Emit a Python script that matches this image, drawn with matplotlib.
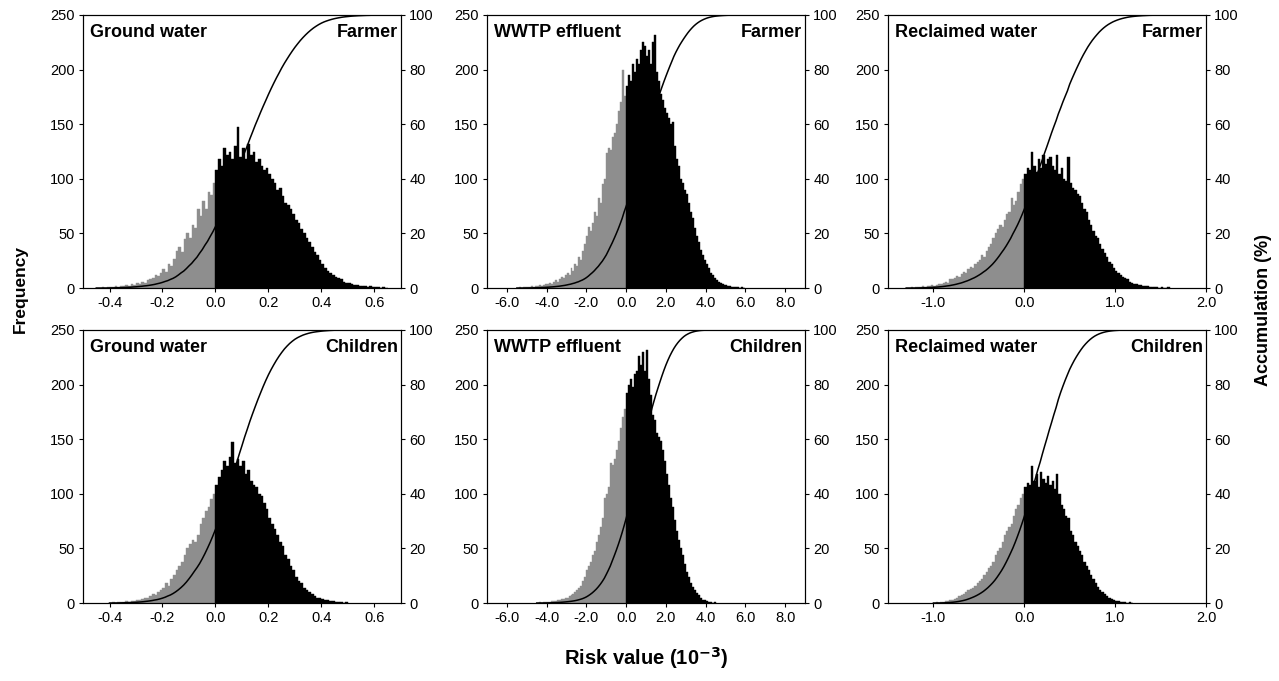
import numpy as np
import matplotlib
matplotlib.use('Agg')
import matplotlib.pyplot as plt

plt.rcParams['font.family'] = ['Liberation Sans', 'DejaVu Sans']

# histogram counts (bin left edge = start + i * width)
gw_farmer_start, gw_farmer_width = -0.45, 0.01
gw_farmer = [0, 0, 1, 0, 1, 1, 1, 2, 1, 2,
             2, 3, 2, 4, 3, 5, 4, 6, 5, 7,
             8, 9, 12, 11, 14, 17, 15, 22, 20, 27,
             34, 38, 33, 45, 50, 46, 58, 55, 72, 66,
             80, 72, 88, 85, 96,
             108, 118, 112, 128, 122, 125, 118, 130, 147, 120,
             128, 118, 132, 122, 125, 115, 118, 112, 108, 110,
             104, 100, 96, 90, 92, 84, 78, 76, 72, 68,
             62, 60, 54, 50, 46, 42, 38, 33, 30, 26,
             22, 18, 16, 14, 12, 10, 9, 8, 6, 5,
             5, 4, 3, 3, 2, 2, 2, 1, 2, 1,
             1, 1, 0, 1, 0]

ww_farmer_start, ww_farmer_width = -5.5, 0.1
ww_farmer = [0, 1, 0, 1, 1,
             1, 1, 2, 1, 2, 2, 3, 2, 3, 4,
             4, 5, 4, 6, 7, 6, 8, 10, 9, 12,
             14, 12, 18, 16, 22, 20, 28, 26, 34, 40,
             48, 56, 52, 60, 70, 66, 82, 78, 95, 100,
             124, 128, 126, 138, 142, 150, 162, 170, 200, 176,
             185, 195, 190, 205, 198, 210, 205, 218, 225, 222,
             212, 218, 205, 225, 232, 198, 190, 178, 172, 165,
             160, 156, 150, 152, 130, 118, 112, 100, 96, 90,
             86, 78, 70, 64, 55, 48, 42, 35, 30, 26,
             22, 18, 14, 12, 9, 7, 6, 5, 4, 3,
             3, 2, 2, 1, 1, 1, 1, 0, 1, 0]

rw_farmer_start, rw_farmer_width = -1.3, 0.025
rw_farmer = [0, 0, 1, 0, 1, 1, 1, 2, 1, 2,
             2, 3, 2, 3, 4, 4, 5, 6, 5, 8,
             8, 9, 11, 10, 13, 15, 14, 17, 19, 18,
             22, 24, 26, 30, 28, 34, 38, 40, 46, 50,
             54, 58, 56, 62, 68, 70, 82, 76, 80, 88,
             95, 100,
             104, 110, 108, 125, 112, 106, 118, 110, 122, 114,
             118, 120, 112, 108, 122, 104, 110, 100, 98, 120,
             96, 92, 90, 86, 84, 78, 72, 70, 62, 58,
             52, 48, 46, 40, 36, 32, 28, 24, 22, 18,
             16, 14, 12, 10, 9, 8, 6, 5, 4, 4,
             3, 3, 2, 2, 2, 1, 1, 1, 1, 0,
             1, 0, 0, 1]

gw_child_start, gw_child_width = -0.40, 0.01
gw_child = [0, 1, 0, 1, 1, 1, 2, 1, 2, 2,
            3, 3, 4, 5, 5, 6, 8, 7, 10, 12,
            14, 18, 16, 22, 26, 30, 34, 38, 44, 50,
            54, 58, 56, 62, 72, 78, 84, 88, 95, 100,
            108, 115, 122, 130, 125, 134, 147, 128, 132, 125,
            130, 118, 122, 112, 108, 106, 100, 98, 92, 86,
            78, 72, 68, 62, 56, 52, 44, 40, 34, 30,
            24, 20, 18, 14, 12, 10, 8, 6, 5, 5,
            4, 3, 3, 2, 2, 1, 1, 1, 0, 1]

ww_child_start, ww_child_width = -4.5, 0.1
ww_child = [0, 1, 0, 1, 1,
            1, 1, 2, 2, 2, 3, 3, 4, 4, 5,
            5, 6, 7, 8, 10, 12, 14, 16, 20, 24,
            30, 34, 38, 44, 48, 56, 62, 70, 78, 96,
            100, 106, 128, 126, 132, 140, 148, 160, 170, 178,
            192, 200, 205, 198, 210, 212, 226, 218, 230, 212,
            232, 205, 190, 172, 168, 156, 152, 148, 140, 130,
            118, 108, 96, 88, 76, 66, 58, 50, 44, 36,
            28, 24, 18, 15, 12, 9, 7, 5, 3, 3,
            2, 1, 1, 0, 1]

rw_child_start, rw_child_width = -1.0, 0.025
rw_child = [0, 1, 0, 1, 1, 2, 2, 3, 3, 4,
            5, 6, 7, 8, 10, 12, 13, 14, 16, 18,
            20, 22, 26, 28, 32, 34, 38, 44, 48, 50,
            56, 62, 66, 70, 72, 80, 86, 90, 96, 100,
            106, 110, 108, 125, 112, 118, 106, 120, 114, 110,
            116, 108, 112, 104, 118, 100, 90, 86, 80, 78,
            66, 62, 56, 52, 48, 44, 38, 34, 30, 26,
            22, 18, 15, 12, 10, 8, 6, 5, 4, 3,
            2, 2, 1, 1, 1, 0, 1, 0]

sources = ['Ground water', 'WWTP effluent', 'Reclaimed water']
groups = ['Farmer', 'Children']
xlims = [(-0.5, 0.7), (-7, 9), (-1.5, 2.0)]
xticks = [[-0.4, -0.2, 0.0, 0.2, 0.4, 0.6],
          [-6.0, -4.0, -2.0, 0.0, 2.0, 4.0, 6.0, 8.0],
          [-1.0, 0.0, 1.0, 2.0]]
panels = [[(gw_farmer_start, gw_farmer_width, gw_farmer),
           (ww_farmer_start, ww_farmer_width, ww_farmer),
           (rw_farmer_start, rw_farmer_width, rw_farmer)],
          [(gw_child_start, gw_child_width, gw_child),
           (ww_child_start, ww_child_width, ww_child),
           (rw_child_start, rw_child_width, rw_child)]]

fig = plt.figure(figsize=(12.79, 6.81), dpi=100)
lefts = [0.0649, 0.3808, 0.6943]
bottoms = [0.577, 0.1145]
w, h = 0.2486, 0.401

for r in range(2):
    for c in range(3):
        start, width, counts = panels[r][c]
        counts = np.array(counts, dtype=float)
        edges = start + width * np.arange(len(counts) + 1)
        left_edges = edges[:-1]
        neg = left_edges < -1e-9

        ax = fig.add_axes([lefts[c], bottoms[r], w, h])
        ax.bar(left_edges[neg], counts[neg], width=width, align='edge',
               color='#8e8e8e', edgecolor='#8e8e8e', linewidth=0.3)
        ax.bar(left_edges[~neg], counts[~neg], width=width, align='edge',
               color='black', edgecolor='black', linewidth=0.3)
        ax.set_xlim(*xlims[c])
        ax.set_ylim(0, 250)
        ax.set_yticks(range(0, 251, 50))
        ax.set_xticks(xticks[c])
        ax.set_xticklabels([f'{t:.1f}' for t in xticks[c]])
        ax.tick_params(direction='out', length=3, width=0.8, labelsize=10.5, pad=3)

        # cumulative percentage on the right axis
        ax2 = ax.twinx()
        cum = np.cumsum(counts) / counts.sum() * 100
        ax2.plot(np.r_[edges[0], edges[1:]], np.r_[0, cum], color='black', lw=1.1, zorder=5)
        ax2.set_ylim(0, 100)
        ax2.set_yticks(range(0, 101, 20))
        ax2.tick_params(direction='out', length=3, width=0.8, labelsize=10.5, pad=3)
        for a in (ax, ax2):
            for s in a.spines.values():
                s.set_linewidth(0.8)

        ax.text(0.022, 0.935, sources[c], transform=ax.transAxes, fontsize=13,
                fontweight='bold', ha='left', va='center')
        ax.text(0.99, 0.935, groups[r], transform=ax.transAxes, fontsize=13,
                fontweight='bold', ha='right', va='center', zorder=10)

fig.text(0.016, 0.575, 'Frequency', rotation=90, fontsize=12.5, fontweight='bold',
         ha='center', va='center')
fig.text(0.9875, 0.545, 'Accumulation (%)', rotation=90, fontsize=13, fontweight='bold',
         ha='center', va='center')
fig.text(0.505, 0.034, 'Risk value (10$^{\\mathbf{-3}}$)', fontsize=14.5, fontweight='bold',
         ha='center', va='center')

fig.savefig('out.png', dpi=100)
